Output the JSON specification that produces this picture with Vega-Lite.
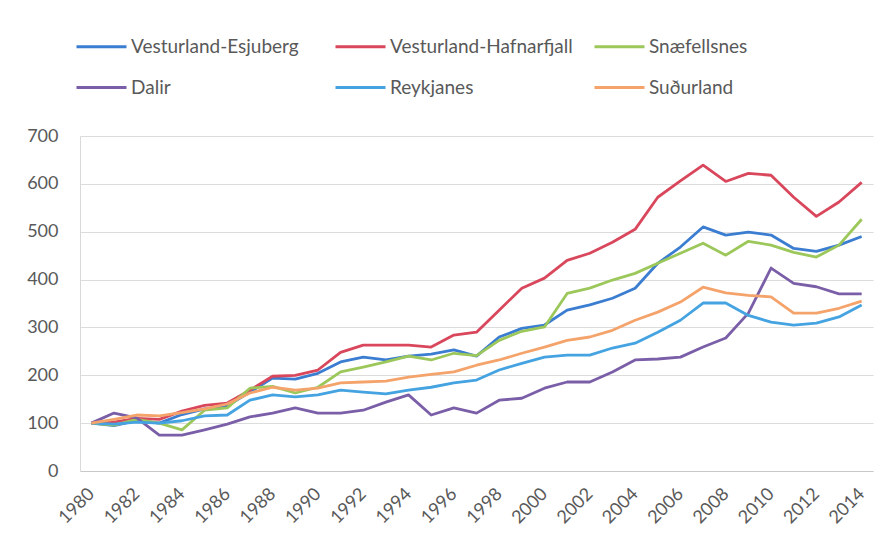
{
  "$schema": "https://vega.github.io/schema/vega-lite/v6.json",
  "width": 793,
  "height": 335,
  "autosize": {"type": "none"},
  "padding": {"left": 80, "top": 136, "right": 23, "bottom": 77},
  "background": "white",
  "config": {"view": {"stroke": null}, "font": "Lato"},
  "datasets": {
    "d": [
      {"year":1980,"series":"Vesturland-Esjuberg","value":100},{"year":1981,"series":"Vesturland-Esjuberg","value":95},{"year":1982,"series":"Vesturland-Esjuberg","value":105},{"year":1983,"series":"Vesturland-Esjuberg","value":100},{"year":1984,"series":"Vesturland-Esjuberg","value":118},{"year":1985,"series":"Vesturland-Esjuberg","value":130},{"year":1986,"series":"Vesturland-Esjuberg","value":136},{"year":1987,"series":"Vesturland-Esjuberg","value":165},{"year":1988,"series":"Vesturland-Esjuberg","value":194},{"year":1989,"series":"Vesturland-Esjuberg","value":192},{"year":1990,"series":"Vesturland-Esjuberg","value":204},{"year":1991,"series":"Vesturland-Esjuberg","value":228},{"year":1992,"series":"Vesturland-Esjuberg","value":238},{"year":1993,"series":"Vesturland-Esjuberg","value":232},{"year":1994,"series":"Vesturland-Esjuberg","value":240},{"year":1995,"series":"Vesturland-Esjuberg","value":244},{"year":1996,"series":"Vesturland-Esjuberg","value":253},{"year":1997,"series":"Vesturland-Esjuberg","value":240},{"year":1998,"series":"Vesturland-Esjuberg","value":280},{"year":1999,"series":"Vesturland-Esjuberg","value":298},{"year":2000,"series":"Vesturland-Esjuberg","value":305},{"year":2001,"series":"Vesturland-Esjuberg","value":336},{"year":2002,"series":"Vesturland-Esjuberg","value":347},{"year":2003,"series":"Vesturland-Esjuberg","value":361},{"year":2004,"series":"Vesturland-Esjuberg","value":382},{"year":2005,"series":"Vesturland-Esjuberg","value":434},{"year":2006,"series":"Vesturland-Esjuberg","value":468},{"year":2007,"series":"Vesturland-Esjuberg","value":510},{"year":2008,"series":"Vesturland-Esjuberg","value":493},{"year":2009,"series":"Vesturland-Esjuberg","value":499},{"year":2010,"series":"Vesturland-Esjuberg","value":493},{"year":2011,"series":"Vesturland-Esjuberg","value":465},{"year":2012,"series":"Vesturland-Esjuberg","value":459},{"year":2013,"series":"Vesturland-Esjuberg","value":472},{"year":2014,"series":"Vesturland-Esjuberg","value":490},
      {"year":1980,"series":"Vesturland-Hafnarfjall","value":100},{"year":1981,"series":"Vesturland-Hafnarfjall","value":102},{"year":1982,"series":"Vesturland-Hafnarfjall","value":110},{"year":1983,"series":"Vesturland-Hafnarfjall","value":108},{"year":1984,"series":"Vesturland-Hafnarfjall","value":125},{"year":1985,"series":"Vesturland-Hafnarfjall","value":137},{"year":1986,"series":"Vesturland-Hafnarfjall","value":142},{"year":1987,"series":"Vesturland-Hafnarfjall","value":169},{"year":1988,"series":"Vesturland-Hafnarfjall","value":198},{"year":1989,"series":"Vesturland-Hafnarfjall","value":200},{"year":1990,"series":"Vesturland-Hafnarfjall","value":211},{"year":1991,"series":"Vesturland-Hafnarfjall","value":248},{"year":1992,"series":"Vesturland-Hafnarfjall","value":263},{"year":1993,"series":"Vesturland-Hafnarfjall","value":263},{"year":1994,"series":"Vesturland-Hafnarfjall","value":263},{"year":1995,"series":"Vesturland-Hafnarfjall","value":259},{"year":1996,"series":"Vesturland-Hafnarfjall","value":284},{"year":1997,"series":"Vesturland-Hafnarfjall","value":290},{"year":1998,"series":"Vesturland-Hafnarfjall","value":336},{"year":1999,"series":"Vesturland-Hafnarfjall","value":382},{"year":2000,"series":"Vesturland-Hafnarfjall","value":403},{"year":2001,"series":"Vesturland-Hafnarfjall","value":440},{"year":2002,"series":"Vesturland-Hafnarfjall","value":455},{"year":2003,"series":"Vesturland-Hafnarfjall","value":478},{"year":2004,"series":"Vesturland-Hafnarfjall","value":505},{"year":2005,"series":"Vesturland-Hafnarfjall","value":572},{"year":2006,"series":"Vesturland-Hafnarfjall","value":606},{"year":2007,"series":"Vesturland-Hafnarfjall","value":639},{"year":2008,"series":"Vesturland-Hafnarfjall","value":605},{"year":2009,"series":"Vesturland-Hafnarfjall","value":622},{"year":2010,"series":"Vesturland-Hafnarfjall","value":618},{"year":2011,"series":"Vesturland-Hafnarfjall","value":572},{"year":2012,"series":"Vesturland-Hafnarfjall","value":532},{"year":2013,"series":"Vesturland-Hafnarfjall","value":562},{"year":2014,"series":"Vesturland-Hafnarfjall","value":603},
      {"year":1980,"series":"Snæfellsnes","value":100},{"year":1981,"series":"Snæfellsnes","value":96},{"year":1982,"series":"Snæfellsnes","value":108},{"year":1983,"series":"Snæfellsnes","value":100},{"year":1984,"series":"Snæfellsnes","value":86},{"year":1985,"series":"Snæfellsnes","value":127},{"year":1986,"series":"Snæfellsnes","value":132},{"year":1987,"series":"Snæfellsnes","value":173},{"year":1988,"series":"Snæfellsnes","value":177},{"year":1989,"series":"Snæfellsnes","value":163},{"year":1990,"series":"Snæfellsnes","value":175},{"year":1991,"series":"Snæfellsnes","value":207},{"year":1992,"series":"Snæfellsnes","value":217},{"year":1993,"series":"Snæfellsnes","value":228},{"year":1994,"series":"Snæfellsnes","value":240},{"year":1995,"series":"Snæfellsnes","value":232},{"year":1996,"series":"Snæfellsnes","value":246},{"year":1997,"series":"Snæfellsnes","value":241},{"year":1998,"series":"Snæfellsnes","value":273},{"year":1999,"series":"Snæfellsnes","value":292},{"year":2000,"series":"Snæfellsnes","value":301},{"year":2001,"series":"Snæfellsnes","value":371},{"year":2002,"series":"Snæfellsnes","value":382},{"year":2003,"series":"Snæfellsnes","value":399},{"year":2004,"series":"Snæfellsnes","value":413},{"year":2005,"series":"Snæfellsnes","value":434},{"year":2006,"series":"Snæfellsnes","value":455},{"year":2007,"series":"Snæfellsnes","value":476},{"year":2008,"series":"Snæfellsnes","value":451},{"year":2009,"series":"Snæfellsnes","value":480},{"year":2010,"series":"Snæfellsnes","value":472},{"year":2011,"series":"Snæfellsnes","value":457},{"year":2012,"series":"Snæfellsnes","value":447},{"year":2013,"series":"Snæfellsnes","value":472},{"year":2014,"series":"Snæfellsnes","value":526},
      {"year":1980,"series":"Dalir","value":100},{"year":1981,"series":"Dalir","value":121},{"year":1982,"series":"Dalir","value":111},{"year":1983,"series":"Dalir","value":75},{"year":1984,"series":"Dalir","value":75},{"year":1985,"series":"Dalir","value":86},{"year":1986,"series":"Dalir","value":98},{"year":1987,"series":"Dalir","value":113},{"year":1988,"series":"Dalir","value":121},{"year":1989,"series":"Dalir","value":132},{"year":1990,"series":"Dalir","value":121},{"year":1991,"series":"Dalir","value":121},{"year":1992,"series":"Dalir","value":127},{"year":1993,"series":"Dalir","value":144},{"year":1994,"series":"Dalir","value":159},{"year":1995,"series":"Dalir","value":117},{"year":1996,"series":"Dalir","value":132},{"year":1997,"series":"Dalir","value":121},{"year":1998,"series":"Dalir","value":148},{"year":1999,"series":"Dalir","value":152},{"year":2000,"series":"Dalir","value":173},{"year":2001,"series":"Dalir","value":186},{"year":2002,"series":"Dalir","value":186},{"year":2003,"series":"Dalir","value":207},{"year":2004,"series":"Dalir","value":232},{"year":2005,"series":"Dalir","value":234},{"year":2006,"series":"Dalir","value":238},{"year":2007,"series":"Dalir","value":259},{"year":2008,"series":"Dalir","value":278},{"year":2009,"series":"Dalir","value":330},{"year":2010,"series":"Dalir","value":424},{"year":2011,"series":"Dalir","value":392},{"year":2012,"series":"Dalir","value":385},{"year":2013,"series":"Dalir","value":370},{"year":2014,"series":"Dalir","value":370},
      {"year":1980,"series":"Reykjanes","value":100},{"year":1981,"series":"Reykjanes","value":98},{"year":1982,"series":"Reykjanes","value":102},{"year":1983,"series":"Reykjanes","value":100},{"year":1984,"series":"Reykjanes","value":105},{"year":1985,"series":"Reykjanes","value":115},{"year":1986,"series":"Reykjanes","value":117},{"year":1987,"series":"Reykjanes","value":148},{"year":1988,"series":"Reykjanes","value":159},{"year":1989,"series":"Reykjanes","value":155},{"year":1990,"series":"Reykjanes","value":159},{"year":1991,"series":"Reykjanes","value":169},{"year":1992,"series":"Reykjanes","value":165},{"year":1993,"series":"Reykjanes","value":161},{"year":1994,"series":"Reykjanes","value":169},{"year":1995,"series":"Reykjanes","value":175},{"year":1996,"series":"Reykjanes","value":184},{"year":1997,"series":"Reykjanes","value":190},{"year":1998,"series":"Reykjanes","value":211},{"year":1999,"series":"Reykjanes","value":225},{"year":2000,"series":"Reykjanes","value":238},{"year":2001,"series":"Reykjanes","value":242},{"year":2002,"series":"Reykjanes","value":242},{"year":2003,"series":"Reykjanes","value":257},{"year":2004,"series":"Reykjanes","value":267},{"year":2005,"series":"Reykjanes","value":290},{"year":2006,"series":"Reykjanes","value":315},{"year":2007,"series":"Reykjanes","value":351},{"year":2008,"series":"Reykjanes","value":351},{"year":2009,"series":"Reykjanes","value":325},{"year":2010,"series":"Reykjanes","value":311},{"year":2011,"series":"Reykjanes","value":305},{"year":2012,"series":"Reykjanes","value":309},{"year":2013,"series":"Reykjanes","value":322},{"year":2014,"series":"Reykjanes","value":347},
      {"year":1980,"series":"Suðurland","value":100},{"year":1981,"series":"Suðurland","value":108},{"year":1982,"series":"Suðurland","value":117},{"year":1983,"series":"Suðurland","value":115},{"year":1984,"series":"Suðurland","value":122},{"year":1985,"series":"Suðurland","value":130},{"year":1986,"series":"Suðurland","value":140},{"year":1987,"series":"Suðurland","value":163},{"year":1988,"series":"Suðurland","value":175},{"year":1989,"series":"Suðurland","value":169},{"year":1990,"series":"Suðurland","value":173},{"year":1991,"series":"Suðurland","value":184},{"year":1992,"series":"Suðurland","value":186},{"year":1993,"series":"Suðurland","value":188},{"year":1994,"series":"Suðurland","value":196},{"year":1995,"series":"Suðurland","value":202},{"year":1996,"series":"Suðurland","value":207},{"year":1997,"series":"Suðurland","value":221},{"year":1998,"series":"Suðurland","value":232},{"year":1999,"series":"Suðurland","value":246},{"year":2000,"series":"Suðurland","value":259},{"year":2001,"series":"Suðurland","value":273},{"year":2002,"series":"Suðurland","value":280},{"year":2003,"series":"Suðurland","value":294},{"year":2004,"series":"Suðurland","value":315},{"year":2005,"series":"Suðurland","value":332},{"year":2006,"series":"Suðurland","value":353},{"year":2007,"series":"Suðurland","value":384},{"year":2008,"series":"Suðurland","value":372},{"year":2009,"series":"Suðurland","value":367},{"year":2010,"series":"Suðurland","value":364},{"year":2011,"series":"Suðurland","value":330},{"year":2012,"series":"Suðurland","value":330},{"year":2013,"series":"Suðurland","value":340},{"year":2014,"series":"Suðurland","value":355}
    ]
  },
  "data": {"name": "d"},
  "mark": {"type": "line", "strokeWidth": 2.8, "strokeJoin": "round"},
  "encoding": {
    "x": {
      "field": "year", "type": "ordinal",
      "scale": {"type": "point", "padding": 0.5},
      "axis": {
        "values": [1980,1982,1984,1986,1988,1990,1992,1994,1996,1998,2000,2002,2004,2006,2008,2010,2012,2014],
        "labelAngle": -45, "labelAlign": "right", "labelBaseline": "middle",
        "labelFontSize": 18, "labelColor": "#595959", "labelPadding": 20,
        "ticks": false, "domainColor": "#c8c8c8", "title": null, "grid": false
      }
    },
    "y": {
      "field": "value", "type": "quantitative",
      "scale": {"domain": [0, 700], "nice": false},
      "axis": {
        "values": [0,100,200,300,400,500,600,700], "title": null,
        "labelFontSize": 18, "labelColor": "#595959", "labelPadding": 22,
        "ticks": false, "domain": true, "domainColor": "#d9d9d9", "gridColor": "#dcdcdc"
      }
    },
    "color": {
      "field": "series", "type": "nominal",
      "scale": {
        "domain": ["Vesturland-Esjuberg","Vesturland-Hafnarfjall","Snæfellsnes","Dalir","Reykjanes","Suðurland"],
        "range": ["#3b7dd0","#d9475c","#9cc75a","#7a5fa8","#44a3e0","#f4a36b"]
      },
      "legend": {
        "orient": "none", "legendX": -5, "legendY": -116,
        "direction": "horizontal", "columns": 3, "gridAlign": "all",
        "symbolType": "stroke", "symbolSize": 2500, "symbolStrokeWidth": 3,
        "labelFontSize": 19, "labelColor": "#595959", "labelOffset": 3,
        "columnPadding": 15, "rowPadding": 4, "title": null, "labelLimit": 0
      }
    }
  }
}
